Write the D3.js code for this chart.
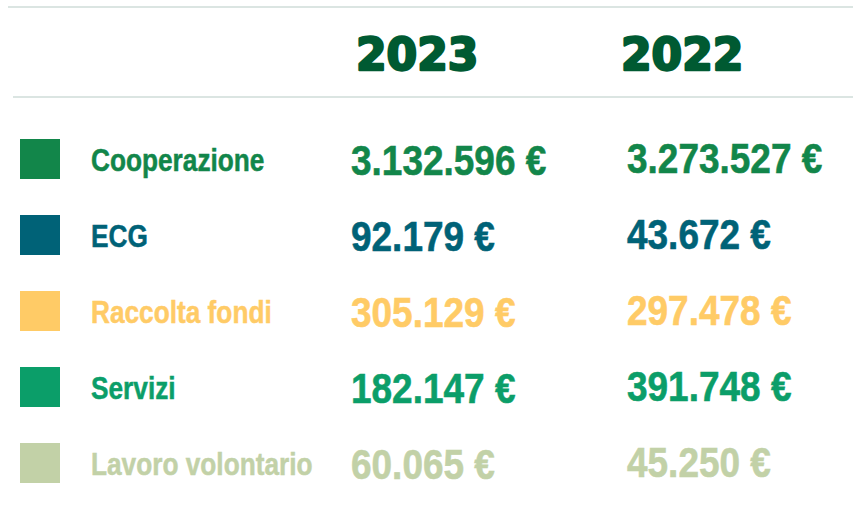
<!DOCTYPE html>
<html>
<head>
<meta charset="utf-8">
<script src="https://cdn.jsdelivr.net/npm/d3@7"></script>
<style>
  body { margin: 0; background: #fff; }
  svg { display: block; }
</style>
</head>
<body>
<div id="wrapper"></div>
<script>
// data
const categories = ["Cooperazione", "ECG", "Raccolta fondi", "Servizi", "Lavoro volontario"]
const years = ["2023", "2022"]
const values2023 = [3132596, 92179, 305129, 182147, 60065]
const values2022 = [3273527, 43672, 297478, 391748, 45250]
const colors = ["#12864a", "#006277", "#ffcb66", "#0b9e69", "#c2d1a7"]

const valuesByYear = { "2023": values2023, "2022": values2022 }

function drawTable() {
  const dimensions = { width: 853, height: 524 }

  const svg = d3.select("#wrapper")
    .append("svg")
    .attr("width", dimensions.width)
    .attr("height", dimensions.height)

  // italian number format, "3.132.596 €"
  const it = d3.formatLocale({
    decimal: ",",
    thousands: ".",
    grouping: [3],
    currency: ["", " €"]
  })
  const fmt = it.format("$,.0f")

  const yScaler = d3.scalePoint()
    .domain(categories)
    .range([139, 443])

  const xScaler = d3.scalePoint()
    .domain(years)
    .range([351, 627])

  const headScaler = d3.scalePoint()
    .domain(years)
    .range([355, 620])

  const color = d3.scaleOrdinal().domain(categories).range(colors)

  // rules
  svg.append("line")
    .attr("x1", 8).attr("x2", 853)
    .attr("y1", 7).attr("y2", 7)
    .attr("stroke", "#cfdcd8").attr("stroke-width", 1.5)
  svg.append("line")
    .attr("x1", 13).attr("x2", 853)
    .attr("y1", 97).attr("y2", 97)
    .attr("stroke", "#cfdcd8").attr("stroke-width", 1.5)

  // year headers
  svg.selectAll(".year")
    .data(years)
    .enter()
    .append("text")
      .attr("class", "year")
      .attr("transform", d => `translate(${headScaler(d) + 1}, 70) scale(1.0, 1)`)
      .text(d => d)
      .attr("fill", "#005a32")
      .attr("stroke", "#005a32")
      .attr("stroke-width", 2.4)
      .attr("stroke-linejoin", "round")
      .attr("font-family", "DejaVu Sans")
      .attr("font-weight", "bold")
      .attr("font-size", "44px")

  const rows = svg.selectAll(".row")
    .data(categories)
    .enter()
    .append("g")
      .attr("class", "row")

  rows.append("rect")
    .attr("x", 20)
    .attr("y", d => yScaler(d))
    .attr("width", 40)
    .attr("height", 40)
    .attr("fill", d => color(d))

  rows.append("text")
    .attr("transform", d => `translate(91, ${yScaler(d) + 32}) scale(0.82, 1)`)
    .text(d => d)
    .attr("fill", d => color(d))
    .attr("stroke", d => color(d))
    .attr("stroke-width", 0.5)
    .attr("font-family", "Liberation Sans, Arial, sans-serif")
    .attr("font-weight", "bold")
    .attr("font-size", "32px")

  years.forEach((yr, j) => {
    rows.append("text")
      .attr("transform", (d, i) => `translate(${xScaler(yr)}, ${yScaler(d) + (j == 0 ? 36 : 34)}) scale(0.86, 1)`)
      .text((d, i) => fmt(valuesByYear[yr][i]))
      .attr("fill", d => color(d))
      .attr("stroke", d => color(d))
      .attr("stroke-width", 0.6)
      .attr("font-family", "Liberation Sans, Arial, sans-serif")
      .attr("font-weight", "bold")
      .attr("font-size", "43px")
  })
}

drawTable()
</script>
</body>
</html>
